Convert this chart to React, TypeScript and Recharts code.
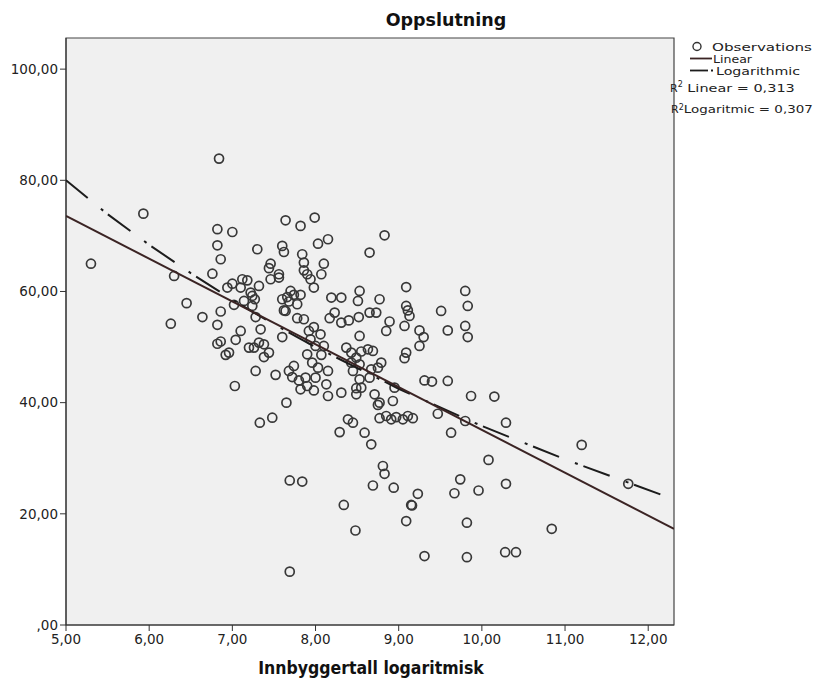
import React from 'react';
import { ScatterChart, Scatter, XAxis, YAxis, ReferenceArea } from 'recharts';

// observations (Innbyggertall logaritmisk, Oppslutning)
const obsX = [
  6.84, 6.82, 7.0, 7.64, 7.82, 7.99, 8.83, 8.15, 5.93, 5.3,
  6.3, 6.45, 6.26, 6.64, 6.82, 6.86, 6.76, 7.3, 6.86, 6.82,
  7.1, 7.04, 6.82, 6.86, 6.94, 7.0, 7.12, 7.18, 7.1, 7.24,
  7.14, 7.24, 7.02, 7.28, 7.32, 7.32, 7.2, 7.6, 7.62, 8.03,
  7.84, 7.86, 8.1, 7.46, 7.44, 7.56, 7.86, 7.9, 8.07, 7.98,
  7.22, 7.27, 7.6, 7.7, 7.74, 7.68, 7.82, 7.78, 7.64, 7.78,
  7.86, 6.92, 6.96, 7.26, 7.38, 7.38, 7.44, 7.34, 7.6, 7.98,
  7.92, 8.06, 7.94, 8.0, 8.1, 8.07, 7.9, 7.96, 8.15, 7.28,
  7.52, 7.68, 7.74, 7.72, 7.8, 7.88, 7.9, 7.82, 7.98, 8.0,
  8.03, 8.13, 8.15, 7.65, 7.03, 7.33, 7.48, 8.31, 8.39, 8.45,
  8.65, 7.94, 7.56, 7.46, 7.66, 7.62, 8.19, 8.31, 8.53, 8.51,
  8.77, 9.09, 8.23, 8.17, 8.31, 8.4, 8.52, 8.65, 8.73, 8.89,
  8.85, 9.09, 9.11, 9.13, 9.07, 9.25, 9.3, 9.25, 9.09, 9.07,
  9.51, 9.59, 8.53, 8.37, 8.43, 8.55, 8.63, 8.69, 8.43, 8.53,
  8.67, 8.75, 8.79, 8.65, 8.53, 8.55, 8.71, 8.49, 8.77, 8.95,
  8.93, 9.31, 9.4, 9.59, 8.77, 8.85, 8.91, 8.97, 9.05, 9.11,
  9.17, 9.47, 9.8, 9.83, 9.8, 9.83, 9.87, 10.15, 9.8, 10.29,
  9.63, 8.59, 8.67, 11.2, 11.76, 10.08, 9.74, 9.67, 9.96, 10.29,
  9.82, 10.84, 9.31, 9.82, 10.28, 10.41, 8.81, 8.83, 8.94, 9.23,
  9.15, 9.16, 9.09, 7.69, 7.84, 7.69, 8.34, 8.48, 8.69, 8.29,
  8.49, 8.45, 8.75, 8.49,
];
const obsY = [
  83.9, 71.2, 70.7, 72.8, 71.8, 73.3, 70.1, 69.4, 74.0, 65.0,
  62.8, 57.9, 54.2, 55.4, 68.3, 65.8, 63.2, 67.6, 56.4, 54.0,
  52.9, 51.3, 50.6, 51.0, 60.7, 61.4, 62.2, 62.0, 60.7, 59.2,
  58.3, 57.4, 57.6, 55.4, 61.0, 50.8, 49.9, 68.2, 67.1, 68.6,
  66.7, 65.2, 65.0, 65.0, 64.2, 63.1, 63.8, 63.1, 63.1, 60.7,
  59.8, 58.6, 58.6, 60.1, 59.4, 58.2, 59.4, 57.7, 56.5, 55.2,
  55.0, 48.6, 49.0, 49.9, 50.5, 48.2, 49.0, 53.2, 51.8, 53.6,
  52.9, 52.3, 51.4, 50.2, 50.2, 48.6, 48.7, 47.2, 45.7, 45.7,
  45.0, 45.7, 46.6, 44.6, 44.0, 44.5, 43.0, 42.4, 42.2, 44.5,
  46.3, 43.3, 41.2, 40.0, 43.0, 36.4, 37.3, 41.8, 37.0, 36.4,
  67.0, 62.2, 62.5, 62.2, 59.0, 56.6, 58.9, 58.9, 60.1, 58.3,
  58.6, 60.8, 56.2, 55.2, 54.4, 54.8, 55.4, 56.2, 56.2, 54.6,
  52.9, 57.4, 56.6, 55.6, 53.8, 53.0, 51.8, 50.2, 49.0, 48.0,
  56.5, 53.0, 52.0, 49.9, 49.0, 49.2, 49.6, 49.3, 47.2, 46.9,
  46.0, 46.3, 47.2, 44.5, 44.2, 42.7, 41.5, 41.5, 40.0, 42.7,
  40.3, 44.0, 43.8, 43.9, 37.2, 37.6, 37.0, 37.4, 37.0, 37.6,
  37.2, 38.0, 60.1, 57.4, 53.8, 51.8, 41.2, 41.1, 36.7, 36.4,
  34.6, 34.6, 32.5, 32.4, 25.4, 29.7, 26.2, 23.7, 24.2, 25.4,
  18.4, 17.3, 12.4, 12.2, 13.1, 13.1, 28.6, 27.2, 24.7, 23.6,
  21.6, 21.5, 18.7, 26.0, 25.8, 9.6, 21.6, 17.0, 25.1, 34.7,
  42.6, 45.7, 39.6, 48.1,
];

// fit lines
const linearX = [5.0, 12.31];
const linearY = [73.6, 17.3];
const logX = [5.0, 5.5, 6.0, 6.5, 7.0, 7.5, 8.0, 9.0, 10.0, 11.0, 12.31];
const logY = [80.0, 73.9, 68.4, 63.3, 58.5, 54.1, 50.0, 42.5, 35.8, 29.8, 22.6];

const xTicks = [5, 6, 7, 8, 9, 10, 11, 12];
const yTicks = [0, 20, 40, 60, 80, 100];

const X_MIN = 5;
const X_MAX = 12.31;
const Y_MAX = 105.6;

const FONT = '"DejaVu Sans", "Liberation Sans", Arial, sans-serif';
const LINEAR_COLOR = '#3b2424';
const LOG_COLOR = '#1c1c1c';
const LOG_DASH = '28 17 3 6';

const observations = obsX.map((x, i) => ({ x, y: obsY[i] }));
const linearFit = linearX.map((x, i) => ({ x, y: linearY[i] }));
const logFit = logX.map((x, i) => ({ x, y: logY[i] }));

const fmt = (v: number) => (v === 0 ? ',00' : v.toFixed(2).replace('.', ','));

const OpenCircle = (props: any) => {
  const { cx, cy } = props;
  if (cx == null || cy == null) return <g />;
  return <circle cx={cx} cy={cy} r={4.5} fill="none" stroke="#383838" strokeWidth={1.7} />;
};

const NoDot = () => <g />;

const Overlay = () => (
  <svg
    width={824}
    height={691}
    style={{ position: 'absolute', left: 0, top: 0, pointerEvents: 'none' }}
    fontFamily={FONT}
  >
    <text x={446} y={26} textAnchor="middle" fontSize={17.5} fontWeight="bold" fill="#111">
      Oppslutning
    </text>
    <text x={371} y={674} textAnchor="middle" fontSize={17.5} fontWeight="bold" fill="#111"
      style={{ fontStretch: 'condensed' }}>
      Innbyggertall logaritmisk
    </text>

    {/* legend */}
    <circle cx={697} cy={46.5} r={4} fill="none" stroke="#333" strokeWidth={1.4} />
    <text x={712} y={50.5} fontSize={10.5} fill="#222" textLength={100} lengthAdjust="spacingAndGlyphs">
      Observations
    </text>
    <line x1={690} x2={712} y1={58.5} y2={58.5} stroke={LINEAR_COLOR} strokeWidth={1.8} />
    <text x={713} y={62.5} fontSize={10.5} fill="#222" textLength={39} lengthAdjust="spacingAndGlyphs">
      Linear
    </text>
    <line x1={690} x2={708} y1={70.5} y2={70.5} stroke={LOG_COLOR} strokeWidth={1.8} />
    <line x1={711} x2={713} y1={70.5} y2={70.5} stroke={LOG_COLOR} strokeWidth={1.8} />
    <text x={716} y={74.5} fontSize={10.5} fill="#222" textLength={84} lengthAdjust="spacingAndGlyphs">
      Logarithmic
    </text>
    <text x={670} y={92} fontSize={11} fill="#222">
      R<tspan dy={-5} fontSize={8}>2</tspan>
      <tspan dy={5} textLength={112} lengthAdjust="spacingAndGlyphs"> Linear = 0,313</tspan>
    </text>
    <text x={671} y={113} fontSize={11} fill="#222">
      R<tspan dy={-3} fontSize={8}>2</tspan>
      <tspan dy={3} textLength={129} lengthAdjust="spacingAndGlyphs">Logaritmic = 0,307</tspan>
    </text>
  </svg>
);

export default function App() {
  return (
    <div style={{ position: 'relative', width: 824, height: 691, background: '#fff' }}>
      <style>{'body{margin:0}'}</style>
      <ScatterChart width={824} height={691} margin={{ top: 38, right: 150, left: 0, bottom: 36 }}>
        <ReferenceArea
          x1={X_MIN}
          x2={X_MAX}
          y1={0}
          y2={Y_MAX}
          fill="#f0f0f0"
          fillOpacity={1}
          stroke="#444"
          strokeWidth={1.2}
        />
        <XAxis
          type="number"
          dataKey="x"
          domain={[X_MIN, X_MAX]}
          ticks={xTicks}
          tickFormatter={fmt}
          allowDataOverflow
          height={30}
          tickSize={6}
          tickMargin={3}
          stroke="#333"
          tick={{ fontSize: 13.5, fill: '#222', fontFamily: FONT }}
        />
        <YAxis
          type="number"
          dataKey="y"
          domain={[0, Y_MAX]}
          ticks={yTicks}
          tickFormatter={fmt}
          allowDataOverflow
          width={66}
          tickSize={6}
          tickMargin={2}
          stroke="#333"
          tick={{ fontSize: 13.5, fill: '#222', fontFamily: FONT }}
        />
        <Scatter data={observations} shape={OpenCircle} isAnimationActive={false} />
        <Scatter
          data={logFit}
          shape={NoDot}
          fill={LOG_COLOR}
          line={{ stroke: LOG_COLOR, strokeWidth: 2, strokeDasharray: LOG_DASH }}
          lineType="joint"
          isAnimationActive={false}
        />
        <Scatter
          data={linearFit}
          shape={NoDot}
          fill={LINEAR_COLOR}
          line={{ stroke: LINEAR_COLOR, strokeWidth: 2 }}
          lineType="joint"
          isAnimationActive={false}
        />
      </ScatterChart>
      <Overlay />
    </div>
  );
}
